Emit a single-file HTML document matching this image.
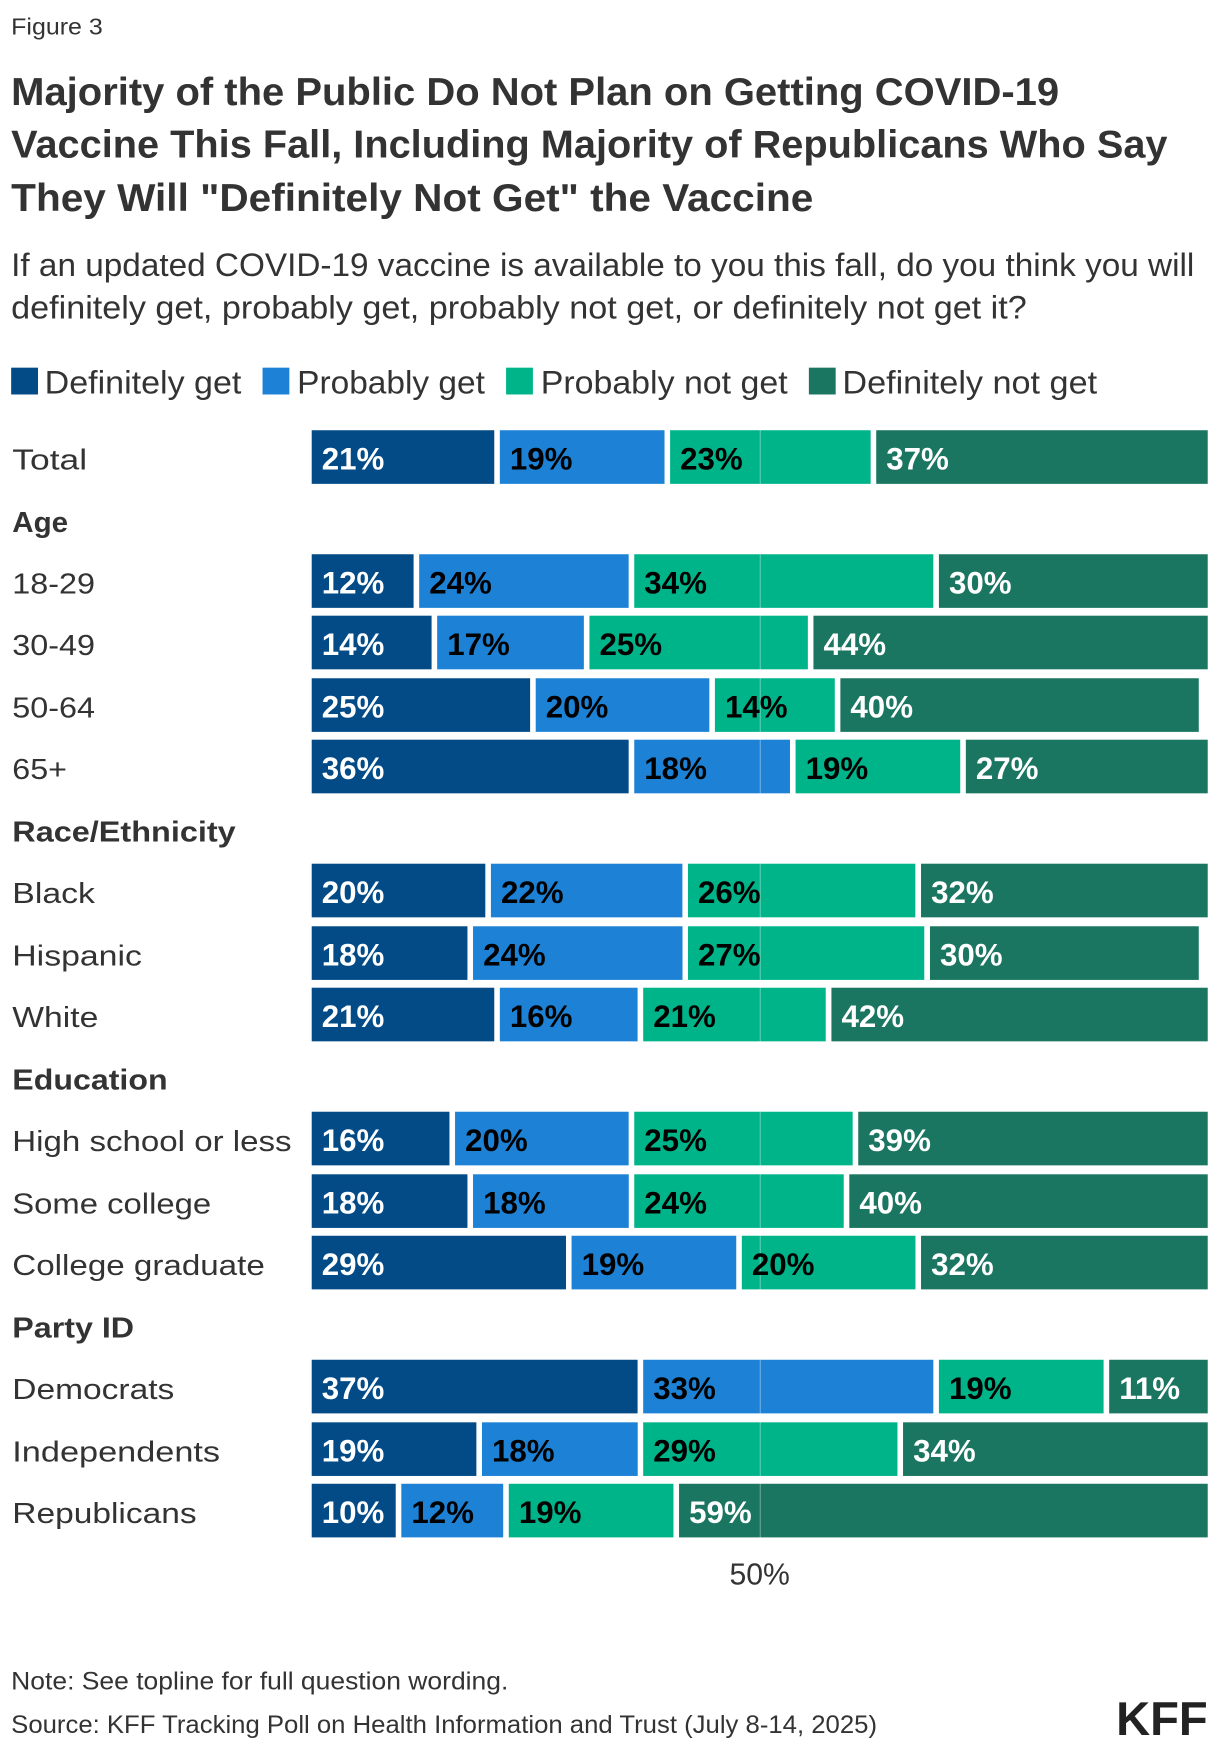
<!DOCTYPE html>
<html><head><meta charset="utf-8"><style>
html,body{margin:0;padding:0;background:#fff;}
svg{display:block;}
text{font-family:"Liberation Sans",sans-serif;fill:#333;}
.b{font-weight:bold;}
.lbl{font-size:26px;}
.h{font-size:26px;font-weight:bold;}
.p{font-size:28px;font-weight:bold;}
.w{fill:#fff;}
.k{fill:#000;}
</style></head><body>
<svg width="1220" height="1752" viewBox="0 0 1092 1568" xmlns="http://www.w3.org/2000/svg">
<text x="10" y="31" font-size="21" textLength="82" lengthAdjust="spacingAndGlyphs">Figure 3</text>
<text x="10" y="94" font-size="35" class="b" textLength="938" lengthAdjust="spacingAndGlyphs">Majority of the Public Do Not Plan on Getting COVID-19</text>
<text x="10" y="141" font-size="35" class="b" textLength="1035" lengthAdjust="spacingAndGlyphs">Vaccine This Fall, Including Majority of Republicans Who Say</text>
<text x="10" y="189" font-size="35" class="b" textLength="718" lengthAdjust="spacingAndGlyphs">They Will "Definitely Not Get" the Vaccine</text>
<text x="10" y="247" font-size="29" textLength="1059" lengthAdjust="spacingAndGlyphs">If an updated COVID-19 vaccine is available to you this fall, do you think you will</text>
<text x="10" y="285" font-size="29" textLength="909" lengthAdjust="spacingAndGlyphs">definitely get, probably get, probably not get, or definitely not get it?</text>

<rect x="10" y="329" width="24" height="24" fill="#024b86"/>
<text x="40" y="352" font-size="29" textLength="176" lengthAdjust="spacingAndGlyphs">Definitely get</text>
<rect x="235" y="329" width="24" height="24" fill="#1d82d6"/>
<text x="266" y="352" font-size="29" textLength="168" lengthAdjust="spacingAndGlyphs">Probably get</text>
<rect x="453" y="329" width="24" height="24" fill="#00b48a"/>
<text x="484" y="352" font-size="29" textLength="221" lengthAdjust="spacingAndGlyphs">Probably not get</text>
<rect x="724" y="329" width="24" height="24" fill="#1a7561"/>
<text x="754" y="352" font-size="29" textLength="228" lengthAdjust="spacingAndGlyphs">Definitely not get</text>

<text x="11" y="476" class="h" textLength="50" lengthAdjust="spacingAndGlyphs">Age</text>
<text x="11" y="753" class="h" textLength="200" lengthAdjust="spacingAndGlyphs">Race/Ethnicity</text>
<text x="11" y="975" class="h" textLength="139" lengthAdjust="spacingAndGlyphs">Education</text>
<text x="11" y="1197" class="h" textLength="109" lengthAdjust="spacingAndGlyphs">Party ID</text>

<g class="lbl">
<text x="11" y="420" textLength="67" lengthAdjust="spacingAndGlyphs">Total</text>
<text x="11" y="531" textLength="74" lengthAdjust="spacingAndGlyphs">18-29</text>
<text x="11" y="586" textLength="74" lengthAdjust="spacingAndGlyphs">30-49</text>
<text x="11" y="642" textLength="74" lengthAdjust="spacingAndGlyphs">50-64</text>
<text x="11" y="697" textLength="49" lengthAdjust="spacingAndGlyphs">65+</text>
<text x="11" y="808" textLength="74" lengthAdjust="spacingAndGlyphs">Black</text>
<text x="11" y="864" textLength="116" lengthAdjust="spacingAndGlyphs">Hispanic</text>
<text x="11" y="919" textLength="77" lengthAdjust="spacingAndGlyphs">White</text>
<text x="11" y="1030" textLength="250" lengthAdjust="spacingAndGlyphs">High school or less</text>
<text x="11" y="1086" textLength="178" lengthAdjust="spacingAndGlyphs">Some college</text>
<text x="11" y="1141" textLength="226" lengthAdjust="spacingAndGlyphs">College graduate</text>
<text x="11" y="1252" textLength="145" lengthAdjust="spacingAndGlyphs">Democrats</text>
<text x="11" y="1308" textLength="186" lengthAdjust="spacingAndGlyphs">Independents</text>
<text x="11" y="1363" textLength="165" lengthAdjust="spacingAndGlyphs">Republicans</text>
</g>

<g>
<rect x="279" y="385" width="163.4" height="48" fill="#024b86"/><rect x="447.4" y="385" width="147.4" height="48" fill="#1d82d6"/><rect x="599.8" y="385" width="179.5" height="48" fill="#00b48a"/><rect x="784.3" y="385" width="296.7" height="48" fill="#1a7561"/>
<rect x="279" y="496" width="91.2" height="48" fill="#024b86"/><rect x="375.2" y="496" width="187.5" height="48" fill="#1d82d6"/><rect x="567.7" y="496" width="267.7" height="48" fill="#00b48a"/><rect x="840.4" y="496" width="240.6" height="48" fill="#1a7561"/>
<rect x="279" y="551" width="107.3" height="48" fill="#024b86"/><rect x="391.3" y="551" width="131.3" height="48" fill="#1d82d6"/><rect x="527.6" y="551" width="195.5" height="48" fill="#00b48a"/><rect x="728.1" y="551" width="352.9" height="48" fill="#1a7561"/>
<rect x="279" y="607" width="195.5" height="48" fill="#024b86"/><rect x="479.5" y="607" width="155.4" height="48" fill="#1d82d6"/><rect x="639.9" y="607" width="107.3" height="48" fill="#00b48a"/><rect x="752.2" y="607" width="320.8" height="48" fill="#1a7561"/>
<rect x="279" y="662" width="283.7" height="48" fill="#024b86"/><rect x="567.7" y="662" width="139.4" height="48" fill="#1d82d6"/><rect x="712.1" y="662" width="147.4" height="48" fill="#00b48a"/><rect x="864.5" y="662" width="216.5" height="48" fill="#1a7561"/>
<rect x="279" y="773" width="155.4" height="48" fill="#024b86"/><rect x="439.4" y="773" width="171.4" height="48" fill="#1d82d6"/><rect x="615.8" y="773" width="203.5" height="48" fill="#00b48a"/><rect x="824.4" y="773" width="256.6" height="48" fill="#1a7561"/>
<rect x="279" y="829" width="139.4" height="48" fill="#024b86"/><rect x="423.4" y="829" width="187.5" height="48" fill="#1d82d6"/><rect x="615.8" y="829" width="211.5" height="48" fill="#00b48a"/><rect x="832.4" y="829" width="240.6" height="48" fill="#1a7561"/>
<rect x="279" y="884" width="163.4" height="48" fill="#024b86"/><rect x="447.4" y="884" width="123.3" height="48" fill="#1d82d6"/><rect x="575.7" y="884" width="163.4" height="48" fill="#00b48a"/><rect x="744.2" y="884" width="336.8" height="48" fill="#1a7561"/>
<rect x="279" y="995" width="123.3" height="48" fill="#024b86"/><rect x="407.3" y="995" width="155.4" height="48" fill="#1d82d6"/><rect x="567.7" y="995" width="195.5" height="48" fill="#00b48a"/><rect x="768.2" y="995" width="312.8" height="48" fill="#1a7561"/>
<rect x="279" y="1051" width="139.4" height="48" fill="#024b86"/><rect x="423.4" y="1051" width="139.4" height="48" fill="#1d82d6"/><rect x="567.7" y="1051" width="187.5" height="48" fill="#00b48a"/><rect x="760.2" y="1051" width="320.8" height="48" fill="#1a7561"/>
<rect x="279" y="1106" width="227.6" height="48" fill="#024b86"/><rect x="511.6" y="1106" width="147.4" height="48" fill="#1d82d6"/><rect x="664" y="1106" width="155.4" height="48" fill="#00b48a"/><rect x="824.4" y="1106" width="256.6" height="48" fill="#1a7561"/>
<rect x="279" y="1217" width="291.7" height="48" fill="#024b86"/><rect x="575.7" y="1217" width="259.7" height="48" fill="#1d82d6"/><rect x="840.4" y="1217" width="147.4" height="48" fill="#00b48a"/><rect x="992.8" y="1217" width="88.2" height="48" fill="#1a7561"/>
<rect x="279" y="1273" width="147.4" height="48" fill="#024b86"/><rect x="431.4" y="1273" width="139.4" height="48" fill="#1d82d6"/><rect x="575.7" y="1273" width="227.6" height="48" fill="#00b48a"/><rect x="808.3" y="1273" width="272.7" height="48" fill="#1a7561"/>
<rect x="279" y="1328" width="75.2" height="48" fill="#024b86"/><rect x="359.2" y="1328" width="91.2" height="48" fill="#1d82d6"/><rect x="455.4" y="1328" width="147.4" height="48" fill="#00b48a"/><rect x="607.8" y="1328" width="473.2" height="48" fill="#1a7561"/>
</g>

<g stroke="#ffffff" stroke-opacity="0.35" stroke-width="1">
<line x1="680.5" y1="385" x2="680.5" y2="433"/>
<line x1="680.5" y1="496" x2="680.5" y2="710"/>
<line x1="680.5" y1="773" x2="680.5" y2="932"/>
<line x1="680.5" y1="995" x2="680.5" y2="1154"/>
<line x1="680.5" y1="1217" x2="680.5" y2="1376"/>
</g>

<g class="p">
<text class="w" x="288" y="420">21%</text><text class="k" x="456.4" y="420">19%</text><text class="k" x="608.8" y="420">23%</text><text class="w" x="793.3" y="420">37%</text>
<text class="w" x="288" y="531">12%</text><text class="k" x="384.2" y="531">24%</text><text class="k" x="576.7" y="531">34%</text><text class="w" x="849.4" y="531">30%</text>
<text class="w" x="288" y="586">14%</text><text class="k" x="400.3" y="586">17%</text><text class="k" x="536.6" y="586">25%</text><text class="w" x="737.1" y="586">44%</text>
<text class="w" x="288" y="642">25%</text><text class="k" x="488.5" y="642">20%</text><text class="k" x="648.9" y="642">14%</text><text class="w" x="761.2" y="642">40%</text>
<text class="w" x="288" y="697">36%</text><text class="k" x="576.7" y="697">18%</text><text class="k" x="721.1" y="697">19%</text><text class="w" x="873.5" y="697">27%</text>
<text class="w" x="288" y="808">20%</text><text class="k" x="448.4" y="808">22%</text><text class="k" x="624.8" y="808">26%</text><text class="w" x="833.4" y="808">32%</text>
<text class="w" x="288" y="864">18%</text><text class="k" x="432.4" y="864">24%</text><text class="k" x="624.8" y="864">27%</text><text class="w" x="841.4" y="864">30%</text>
<text class="w" x="288" y="919">21%</text><text class="k" x="456.4" y="919">16%</text><text class="k" x="584.7" y="919">21%</text><text class="w" x="753.2" y="919">42%</text>
<text class="w" x="288" y="1030">16%</text><text class="k" x="416.3" y="1030">20%</text><text class="k" x="576.7" y="1030">25%</text><text class="w" x="777.2" y="1030">39%</text>
<text class="w" x="288" y="1086">18%</text><text class="k" x="432.4" y="1086">18%</text><text class="k" x="576.7" y="1086">24%</text><text class="w" x="769.2" y="1086">40%</text>
<text class="w" x="288" y="1141">29%</text><text class="k" x="520.6" y="1141">19%</text><text class="k" x="673" y="1141">20%</text><text class="w" x="833.4" y="1141">32%</text>
<text class="w" x="288" y="1252">37%</text><text class="k" x="584.7" y="1252">33%</text><text class="k" x="849.4" y="1252">19%</text><text class="w" x="1001.8" y="1252">11%</text>
<text class="w" x="288" y="1308">19%</text><text class="k" x="440.4" y="1308">18%</text><text class="k" x="584.7" y="1308">29%</text><text class="w" x="817.3" y="1308">34%</text>
<text class="w" x="288" y="1363">10%</text><text class="k" x="368.2" y="1363">12%</text><text class="k" x="464.4" y="1363">19%</text><text class="w" x="616.8" y="1363">59%</text>
</g>

<text x="680" y="1418" font-size="27" text-anchor="middle">50%</text>

<text x="10" y="1512" font-size="22" textLength="445" lengthAdjust="spacingAndGlyphs">Note: See topline for full question wording.</text>
<text x="10" y="1551" font-size="22" textLength="775" lengthAdjust="spacingAndGlyphs">Source: KFF Tracking Poll on Health Information and Trust (July 8-14, 2025)</text>
<text x="999" y="1553" font-size="42" font-weight="bold" style="fill:#222" textLength="82" lengthAdjust="spacingAndGlyphs">KFF</text>
</svg>
</body></html>
